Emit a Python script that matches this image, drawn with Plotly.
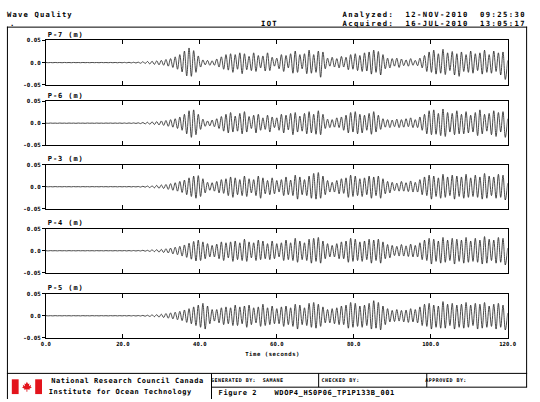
import plotly.graph_objects as go
import numpy as np

# ---------------- data (wave elevation extrema, mm; sample interval 0.6 s) -------------
sample_interval_s = 0.6

P7_mm = [
    0.3, -0.2, 0.2, -0.3, 0.3, -0.2, 0.2, -0.3, 0.3, -0.2, 0.2, -0.3, 0.3, -0.2, 0.2, -0.3, 0.3, -0.2, 0.2, -0.3,
    0.3, -0.2, 0.2, -0.3, 0.3, -0.2, 0.2, -0.3, 0.3, -0.3, 0.3, -0.4, 0.4, -0.4, 0.5, -0.5, 0.6, -0.7, 0.8, -0.9,
    1, -1.5, 2, -2, 2.5, -3, 3, -4, 4, -5, 5, -6, 7, -8, 9, -11, 13, -15, 18, -21,
    26, -30, 33, -31, 27, -22, 15, -10, 6, -5, 5, -6, 4, -6, 8, -10, 13, -15, 18, -17,
    20, -22, 18, -15, 22, -25, 20, -16, 14, -18, 22, -20, 16, -12, 15, -19, 22, -18, 12, -8,
    10, -14, 18, -20, 16, -12, 20, -24, 26, -22, 18, -14, 20, -25, 28, -24, 18, -22, 26, -33,
    24, -14, 10, -8, 12, -10, 9, -12, 14, -10, 12, -16, 18, -15, 20, -18, 16, -20, 22, -19,
    24, -26, 28, -22, 25, -28, 18, -14, 10, -12, 9, -8, 10, -11, 8, -7, 6, -8, 9, -6,
    5, -7, 10, -12, 16, -20, 24, -22, 28, -26, 20, -24, 30, -27, 22, -18, 25, -28, 20, -31,
    24, -20, 18, -22, 26, -24, 20, -18, 22, -26, 28, -22, 18, -24, 26, -20, 22, -28, 24, -38,
    5,
]

P6_mm = [
    0.2, -0.3, 0.3, -0.2, 0.2, -0.3, 0.3, -0.2, 0.2, -0.3, 0.3, -0.2, 0.2, -0.3, 0.3, -0.2, 0.2, -0.3, 0.3, -0.2,
    0.2, -0.3, 0.3, -0.2, 0.2, -0.3, 0.3, -0.2, 0.3, -0.3, 0.3, -0.3, 0.4, -0.4, 0.4, -0.5, 0.5, -0.5, 0.6, -0.6,
    0.8, -1, 1.5, -1.5, 2, -2.5, 3, -3, 3.5, -4, 5, -5, 6, -7, 8, -9, 10, -12, 14, -16,
    20, -24, 28, -32, 30, -26, 20, -14, 9, -7, 5, -6, 7, -8, 10, -12, 15, -18, 20, -22,
    24, -20, 16, -18, 22, -24, 26, -20, 15, -12, 18, -22, 20, -16, 12, -14, 18, -20, 14, -10,
    12, -16, 20, -22, 18, -15, 22, -26, 24, -20, 16, -18, 22, -24, 26, -22, 20, -25, 28, -26,
    20, -12, 9, -10, 8, -9, 12, -10, 14, -16, 18, -22, 24, -20, 26, -24, 20, -22, 18, -16,
    22, -25, 26, -20, 18, -14, 10, -9, 8, -10, 7, -8, 9, -10, 8, -9, 10, -8, 12, -10,
    8, -10, 14, -16, 20, -24, 28, -26, 30, -25, 22, -28, 32, -30, 24, -20, 22, -26, 28, -24,
    20, -24, 26, -22, 18, -20, 24, -28, 30, -24, 20, -18, 22, -26, 28, -30, 24, -20, 26, -32,
    10,
]

P3_mm = [
    0.3, -0.2, 0.2, -0.3, 0.3, -0.2, 0.2, -0.3, 0.3, -0.2, 0.2, -0.3, 0.3, -0.2, 0.2, -0.3, 0.3, -0.2, 0.2, -0.3,
    0.3, -0.2, 0.2, -0.3, 0.3, -0.2, 0.2, -0.3, 0.3, -0.2, 0.2, -0.3, 0.3, -0.3, 0.3, -0.3, 0.4, -0.4, 0.4, -0.4,
    0.5, -0.8, 1, -1, 1.5, -2, 2, -2.5, 3, -3.5, 4, -4, 5, -6, 7, -8, 9, -10, 12, -13,
    15, -18, 20, -22, 24, -26, 25, -22, 18, -14, 10, -8, 9, -10, 12, -14, 16, -15, 18, -20,
    22, -24, 20, -18, 16, -20, 24, -22, 18, -14, 16, -20, 24, -26, 20, -16, 14, -18, 20, -16,
    14, -12, 16, -20, 22, -18, 15, -20, 26, -28, 22, -18, 16, -20, 24, -26, 30, -28, 32, -26,
    24, -18, 14, -12, 10, -12, 14, -16, 18, -15, 20, -24, 26, -22, 24, -20, 18, -22, 20, -18,
    24, -26, 22, -20, 24, -26, 18, -16, 12, -14, 10, -9, 8, -10, 12, -10, 9, -11, 13, -12,
    10, -12, 16, -18, 22, -20, 26, -28, 24, -22, 20, -26, 28, -24, 22, -20, 26, -28, 24, -22,
    22, -26, 28, -24, 20, -22, 26, -24, 22, -28, 30, -26, 24, -20, 22, -26, 28, -24, 26, -30,
    8,
]

P4_mm = [
    0.2, -0.3, 0.3, -0.2, 0.2, -0.3, 0.3, -0.2, 0.2, -0.3, 0.3, -0.2, 0.2, -0.3, 0.3, -0.2, 0.2, -0.3, 0.3, -0.2,
    0.2, -0.3, 0.3, -0.2, 0.2, -0.3, 0.3, -0.2, 0.2, -0.3, 0.3, -0.3, 0.3, -0.3, 0.4, -0.4, 0.4, -0.4, 0.5, -0.5,
    0.5, -0.5, 1, -1, 1, -1.5, 2, -2, 2.5, -3, 3, -4, 4.5, -5, 6, -7, 8, -9, 10, -12,
    13, -15, 17, -19, 21, -23, 24, -22, 20, -18, 16, -14, 12, -14, 15, -18, 20, -22, 18, -16,
    20, -24, 22, -20, 18, -22, 26, -24, 20, -16, 18, -22, 24, -20, 22, -18, 16, -20, 22, -18,
    16, -14, 18, -22, 24, -20, 18, -22, 28, -26, 22, -20, 18, -22, 26, -28, 28, -24, 30, -28,
    22, -18, 16, -14, 12, -14, 16, -18, 20, -18, 22, -26, 28, -24, 26, -22, 20, -24, 22, -20,
    26, -28, 24, -22, 26, -28, 20, -18, 14, -16, 12, -11, 10, -12, 14, -12, 11, -13, 15, -14,
    12, -14, 18, -20, 24, -22, 28, -30, 26, -24, 22, -28, 30, -26, 24, -22, 28, -30, 26, -24,
    24, -28, 30, -26, 22, -24, 28, -26, 24, -30, 32, -28, 26, -22, 24, -28, 30, -26, 28, -32,
    6,
]

P5_mm = [
    0.3, -0.2, 0.2, -0.3, 0.3, -0.2, 0.2, -0.3, 0.3, -0.2, 0.2, -0.3, 0.3, -0.2, 0.2, -0.3, 0.3, -0.2, 0.2, -0.3,
    0.3, -0.2, 0.2, -0.3, 0.3, -0.2, 0.2, -0.3, 0.3, -0.2, 0.3, -0.3, 0.3, -0.3, 0.4, -0.4, 0.4, -0.4, 0.5, -0.5,
    0.5, -0.5, 0.8, -1, 1.2, -1.5, 2, -2, 2.5, -3, 3.5, -4, 5, -5.5, 6.5, -7, 8, -9, 10, -11,
    13, -15, 16, -18, 20, -22, 24, -26, 28, -30, 22, -18, 14, -12, 14, -16, 18, -20, 20, -18,
    18, -22, 24, -22, 20, -18, 22, -26, 24, -20, 18, -16, 20, -24, 26, -22, 18, -20, 22, -18,
    16, -18, 20, -24, 22, -20, 18, -24, 26, -30, 24, -20, 18, -22, 28, -26, 30, -28, 26, -24,
    20, -16, 14, -16, 16, -18, 18, -20, 22, -20, 24, -28, 30, -26, 28, -24, 22, -26, 24, -22,
    28, -30, 34, -28, 30, -32, 22, -20, 16, -14, 12, -13, 14, -12, 12, -14, 13, -15, 16, -14,
    14, -16, 20, -22, 26, -24, 28, -30, 24, -26, 22, -28, 32, -28, 26, -22, 28, -30, 24, -26,
    26, -28, 30, -26, 24, -22, 28, -30, 26, -28, 30, -26, 22, -24, 26, -30, 28, -26, 24, -32,
    6,
]

panel_labels = ["P-7 (m)", "P-6 (m)", "P-3 (m)", "P-4 (m)", "P-5 (m)"]
panel_series = [P7_mm, P6_mm, P3_mm, P4_mm, P5_mm]

x_tick_values = [0, 20, 40, 60, 80, 100, 120]
x_tick_labels = ["0.0", "20.0", "40.0", "60.0", "80.0", "100.0", "120.0"]
y_tick_values = [-0.05, 0.0, 0.05]
y_tick_labels = ["-0.05", "0.0", "0.05"]

# ---------------- layout helpers ----------------
W, H = 540, 402
def fx(x):
    return x / W
def fy(y):
    return 1 - y / H

MONO = "DejaVu Sans Mono"
plot_left, plot_right = 42, 516
panel_tops = [38, 99.5, 164, 229, 295]
panel_h = 45

fig = go.Figure()
layout = dict(
    width=W, height=H, margin=dict(l=0, r=0, t=0, b=0),
    paper_bgcolor="white", plot_bgcolor="white", showlegend=False,
)

for k, vals in enumerate(panel_series):
    n = k + 1
    xs = "x" if n == 1 else f"x{n}"
    ys = "y" if n == 1 else f"y{n}"
    t = np.arange(len(vals)) * sample_interval_s
    fig.add_trace(go.Scatter(
        x=t, y=np.array(vals) / 1000.0, mode="lines",
        line=dict(color="#2b2b2b", width=0.85, shape="spline", smoothing=1.0),
        xaxis=xs, yaxis=ys, hoverinfo="skip",
    ))
    top = panel_tops[k]
    layout["xaxis" if n == 1 else f"xaxis{n}"] = dict(
        domain=[fx(plot_left), fx(plot_right)], range=[0, 120], anchor=ys,
        showline=True, linecolor="black", linewidth=1, mirror="ticks",
        ticks="inside", ticklen=4, tickwidth=1, tickcolor="black",
        tickvals=x_tick_values, ticktext=x_tick_labels,
        showticklabels=(n == 5), showgrid=False, zeroline=False,
        tickfont=dict(family=MONO, size=5.6, color="black", weight="bold"),
    )
    layout["yaxis" if n == 1 else f"yaxis{n}"] = dict(
        domain=[fy(top + panel_h), fy(top)], range=[-0.05, 0.05], anchor=xs,
        showline=True, linecolor="black", linewidth=1, mirror=True,
        ticks="outside", ticklen=3, tickwidth=1, tickcolor="black",
        tickvals=y_tick_values, ticktext=y_tick_labels,
        showgrid=False, zeroline=False,
        tickfont=dict(family=MONO, size=5.8, color="black", weight="bold"),
    )

fig.update_layout(**layout)

# ---------------- annotations (centred; letter spacing applied after render) ----------------
annots = []
spacings = []
def add_text(text, cx, y, size, spacing):
    annots.append(dict(
        text=text, x=fx(cx), y=fy(y), xref="paper", yref="paper",
        xanchor="center", yanchor="middle", showarrow=False,
        font=dict(family=MONO, size=size, color="black", weight="bold"),
    ))
    spacings.append(spacing)

add_text("Wave Quality", 36, 12, 7.2, 1.15)
add_text(".", 7, 21, 7.2, 0)
add_text("IOT", 272, 21, 7.2, 1.4)
add_text("Analyzed:  12-NOV-2010  09:25:30", 440, 12, 7.2, 1.4)
add_text("Acquired:  16-JUL-2010  13:05:17", 440, 21, 7.2, 1.4)

for k, lab in enumerate(panel_labels):
    add_text(lab, 63, panel_tops[k] - 5.5, 7, 0.9)

add_text("Time (seconds)", 275, 356, 5.6, 0.55)

add_text("National Research Council Canada", 125.5, 384, 7, 0.55)
add_text("Institute for Ocean Technology", 119, 395, 7, 0.55)
add_text("GENERATED BY:", 234.5, 383, 5, 0.45)
add_text("SAMANE", 275.5, 383, 5, 0.45)
add_text("CHECKED BY:", 344, 383, 5, 0.45)
add_text("APPROVED BY:", 453, 383, 5, 0.45)
add_text("Figure 2", 239, 396, 7, 0.6)
add_text("WDOP4_HS0P06_TP1P133B_001", 338, 396, 7, 0.6)

fig.update_layout(annotations=annots)

# ---------------- frame / title block ----------------
def line(x0, y0, x1, y1, w=1):
    return dict(type="line", xref="paper", yref="paper",
                x0=fx(x0), y0=fy(y0), x1=fx(x1), y1=fy(y1),
                line=dict(color="black", width=w))

shapes = [
    line(2, 24.5, 536, 24.5),
    line(2.5, 24, 2.5, 402),
    line(535.5, 24, 535.5, 390),
    line(2, 376, 536, 376),
    line(212, 390, 536, 390),
    line(212, 376, 212, 402),
    line(322, 376, 322, 390),
    line(433, 376, 433, 390),
]
red = "#e3141c"
for (a, b) in [(7, 14), (31, 38)]:
    shapes.append(dict(type="rect", xref="paper", yref="paper",
                       x0=fx(a), x1=fx(b), y0=fy(397), y1=fy(382),
                       fillcolor=red, line=dict(width=0)))
leaf = [(0, -6), (1.4, -3.2), (3, -3.8), (2.4, -0.6), (5, -2.2), (4.4, 0), (6, 0.6),
        (3, 2.6), (3.4, 3.6), (0.5, 3.1), (0.5, 6), (-0.5, 6), (-0.5, 3.1), (-3.4, 3.6),
        (-3, 2.6), (-6, 0.6), (-4.4, 0), (-5, -2.2), (-2.4, -0.6), (-3, -3.8), (-1.4, -3.2)]
cx, cy, s = 22.5, 389.5, 0.85
path = "M " + " L ".join(f"{fx(cx + s * a):.5f},{fy(cy + s * b):.5f}" for a, b in leaf) + " Z"
shapes.append(dict(type="path", xref="paper", yref="paper", path=path,
                   fillcolor=red, line=dict(width=0)))
fig.update_layout(shapes=shapes)

post = ("var sp=%s;var gd=document.getElementById('{plot_id}');"
        "gd.querySelectorAll('g.annotation').forEach(function(g){"
        "var i=parseInt(g.getAttribute('data-index'));"
        "g.querySelectorAll('text').forEach(function(t){t.style.letterSpacing=sp[i]+'px';});});"
        ) % str(spacings)

fig.write_html("out.html", post_script=post, config={"displayModeBar": False})
